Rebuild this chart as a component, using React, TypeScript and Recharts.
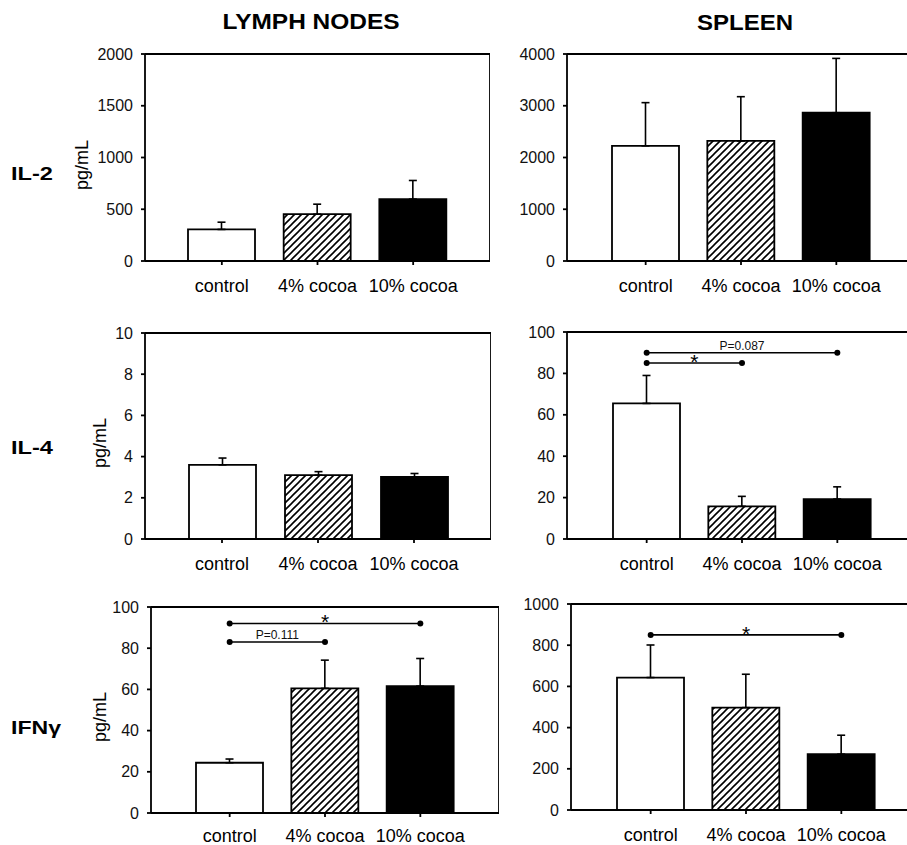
import React from 'react';
import { BarChart, Bar, XAxis, YAxis, Cell, ErrorBar, ReferenceLine, ReferenceDot, CartesianGrid } from 'recharts';

const categories = ['control', '4% cocoa', '10% cocoa'];

const il2LymphMean = [305, 452, 598];
const il2LymphSem = [70, 97, 180];
const il2SpleenMean = [2225, 2320, 2865];
const il2SpleenSem = [835, 855, 1050];

const il4LymphMean = [3.6, 3.1, 3.02];
const il4LymphSem = [0.33, 0.17, 0.16];
const il4SpleenMean = [65.5, 15.8, 19.3];
const il4SpleenSem = [13.5, 4.8, 5.9];

const ifnLymphMean = [24.4, 60.5, 61.6];
const ifnLymphSem = [1.8, 13.7, 13.4];
const ifnSpleenMean = [643, 497, 271];
const ifnSpleenSem = [158, 162, 92];

const ticks2000 = [0, 500, 1000, 1500, 2000];
const ticks4000 = [0, 1000, 2000, 3000, 4000];
const ticks10 = [0, 2, 4, 6, 8, 10];
const ticks100 = [0, 20, 40, 60, 80, 100];
const ticks1000 = [0, 200, 400, 600, 800, 1000];

type Sig = { from: string; to: string; y: number; label: string };

const il4SpleenSig: Sig[] = [
  { from: 'control', to: '10% cocoa', y: 90, label: 'P=0.087' },
  { from: 'control', to: '4% cocoa', y: 85, label: '*' },
];
const ifnLymphSig: Sig[] = [
  { from: 'control', to: '10% cocoa', y: 92, label: '*' },
  { from: 'control', to: '4% cocoa', y: 83, label: 'P=0.111' },
];
const ifnSpleenSig: Sig[] = [{ from: 'control', to: '10% cocoa', y: 850, label: '*' }];

const FONT = '"Liberation Sans", Arial, sans-serif';
const LW = 1.8;

// label over the significance bracket
const SigLabel = (props: any) => {
  const vb = props.viewBox || {};
  const x = vb.x ?? Math.min(vb.x1, vb.x2);
  const w = vb.width ?? Math.abs(vb.x2 - vb.x1);
  const y = vb.y ?? vb.y1;
  const cx = x + w / 2;
  if (props.text === '*') {
    return (
      <text x={cx} y={y + 6} textAnchor="middle" fontSize={21} fill="#000">
        *
      </text>
    );
  }
  return (
    <text x={cx} y={y - 3} textAnchor="middle" fontSize={12} fill="#111">
      {props.text}
    </text>
  );
};

type PanelProps = {
  id: string;
  left: number;
  top: number;
  plotW: number;
  plotH: number;
  pad: number;
  mean: number[];
  sem: number[];
  ticks: number[];
  sig?: Sig[];
  xH?: number;
  xMargin?: number;
};

const Panel = ({ id, left, top, plotW, plotH, pad, mean, sem, ticks, sig = [], xH = 40, xMargin = 14 }: PanelProps) => {
  const data = categories.map((c, i) => ({ name: c, value: mean[i], err: [0, sem[i]] }));
  const yW = 70;
  const mTop = 12;
  const fills = ['#fff', `url(#hatch-${id})`, '#000'];
  return (
    <div style={{ position: 'absolute', left: left - yW, top: top - mTop }}>
      <BarChart
        width={yW + plotW}
        height={mTop + plotH + xH}
        data={data}
        margin={{ top: mTop, right: 0, left: 0, bottom: 0 }}
        barSize={67}
        style={{ overflow: 'visible' }}
      >
        <defs>
          <pattern id={`hatch-${id}`} patternUnits="userSpaceOnUse" width={7} height={7}>
            <rect width={7} height={7} fill="#fff" />
            <path d="M0,7 L7,0 M-1,1 L1,-1 M6,8 L8,6" stroke="#000" strokeWidth={1.6} />
          </pattern>
        </defs>
        {/* top and right edges of the box */}
        <CartesianGrid
          stroke="#000"
          strokeWidth={LW}
          horizontalCoordinatesGenerator={({ offset }: any) => [offset.top]}
          verticalCoordinatesGenerator={({ offset }: any) => [offset.left + offset.width]}
        />
        <XAxis
          dataKey="name"
          height={xH}
          padding={{ left: pad, right: pad }}
          interval={0}
          tickSize={4}
          tickMargin={xMargin}
          stroke="#000"
          strokeWidth={LW}
          tick={{ fill: '#000', fontSize: 18 }}
        />
        <YAxis
          type="number"
          domain={[0, ticks[ticks.length - 1]]}
          ticks={ticks}
          interval={0}
          width={yW}
          tickSize={4}
          tickMargin={8}
          stroke="#000"
          strokeWidth={LW}
          tick={{ fill: '#111', fontSize: 16 }}
        />
        <Bar dataKey="value" isAnimationActive={false} stroke="#000" strokeWidth={LW}>
          {data.map((d, i) => (
            <Cell key={d.name} fill={fills[i]} stroke="#000" strokeWidth={LW} />
          ))}
          <ErrorBar dataKey="err" direction="y" width={4} stroke="#000" strokeWidth={1.6} isAnimationActive={false} />
        </Bar>
        {sig.map((s, i) => (
          <ReferenceLine
            key={'l' + i}
            segment={[{ x: s.from, y: s.y }, { x: s.to, y: s.y }]}
            stroke="#000"
            strokeWidth={1.6}
            label={<SigLabel text={s.label} />}
          />
        ))}
        {sig.map((s, i) => (
          <ReferenceDot key={'a' + i} x={s.from} y={s.y} r={3} fill="#000" stroke="none" />
        ))}
        {sig.map((s, i) => (
          <ReferenceDot key={'b' + i} x={s.to} y={s.y} r={3} fill="#000" stroke="none" />
        ))}
      </BarChart>
    </div>
  );
};

export default function App() {
  return (
    <div
      style={{
        position: 'absolute',
        left: 0,
        top: 0,
        width: 907,
        height: 845,
        overflow: 'hidden',
        background: '#fff',
        fontFamily: FONT,
      }}
    >
      <Panel id="p1" left={145} top={54} plotW={345} plotH={207} pad={29} mean={il2LymphMean} sem={il2LymphSem} ticks={ticks2000} />
      <Panel id="p2" left={567} top={54} plotW={348} plotH={207} pad={31} mean={il2SpleenMean} sem={il2SpleenSem} ticks={ticks4000} />
      <Panel id="p3" left={145} top={333} plotW={346} plotH={206} pad={29} mean={il4LymphMean} sem={il4LymphSem} ticks={ticks10} />
      <Panel id="p4" left={567} top={332} plotW={350} plotH={207} pad={32} mean={il4SpleenMean} sem={il4SpleenSem} ticks={ticks100} sig={il4SpleenSig} />
      <Panel id="p5" left={151} top={607} plotW={348} plotH={206} pad={31} mean={ifnLymphMean} sem={ifnLymphSem} ticks={ticks100} sig={ifnLymphSig} xH={32} xMargin={12} />
      <Panel id="p6" left={571} top={604} plotW={350} plotH={206} pad={32} mean={ifnSpleenMean} sem={ifnSpleenSem} ticks={ticks1000} sig={ifnSpleenSig} xH={35} xMargin={14} />

      <svg width={907} height={845} style={{ position: 'absolute', left: 0, top: 0, pointerEvents: 'none' }}>
        <g fontFamily={FONT} fontWeight="bold" fill="#000">
          <text x={311} y={29} textAnchor="middle" fontSize={22} textLength={177} lengthAdjust="spacingAndGlyphs">
            LYMPH NODES
          </text>
          <text x={745} y={30} textAnchor="middle" fontSize={22} textLength={96} lengthAdjust="spacingAndGlyphs">
            SPLEEN
          </text>
          <text x={11} y={180} fontSize={18} textLength={42} lengthAdjust="spacingAndGlyphs">
            IL-2
          </text>
          <text x={11} y={454} fontSize={18} textLength={42} lengthAdjust="spacingAndGlyphs">
            IL-4
          </text>
          <text x={11} y={734} fontSize={18} textLength={50} lengthAdjust="spacingAndGlyphs">
            IFNγ
          </text>
        </g>
        <g fontFamily={FONT} fontSize={18} fill="#000" textAnchor="middle">
          <text transform="translate(88,165) rotate(-90)">pg/mL</text>
          <text transform="translate(106,443) rotate(-90)">pg/mL</text>
          <text transform="translate(106,717) rotate(-90)">pg/mL</text>
        </g>
      </svg>
    </div>
  );
}
